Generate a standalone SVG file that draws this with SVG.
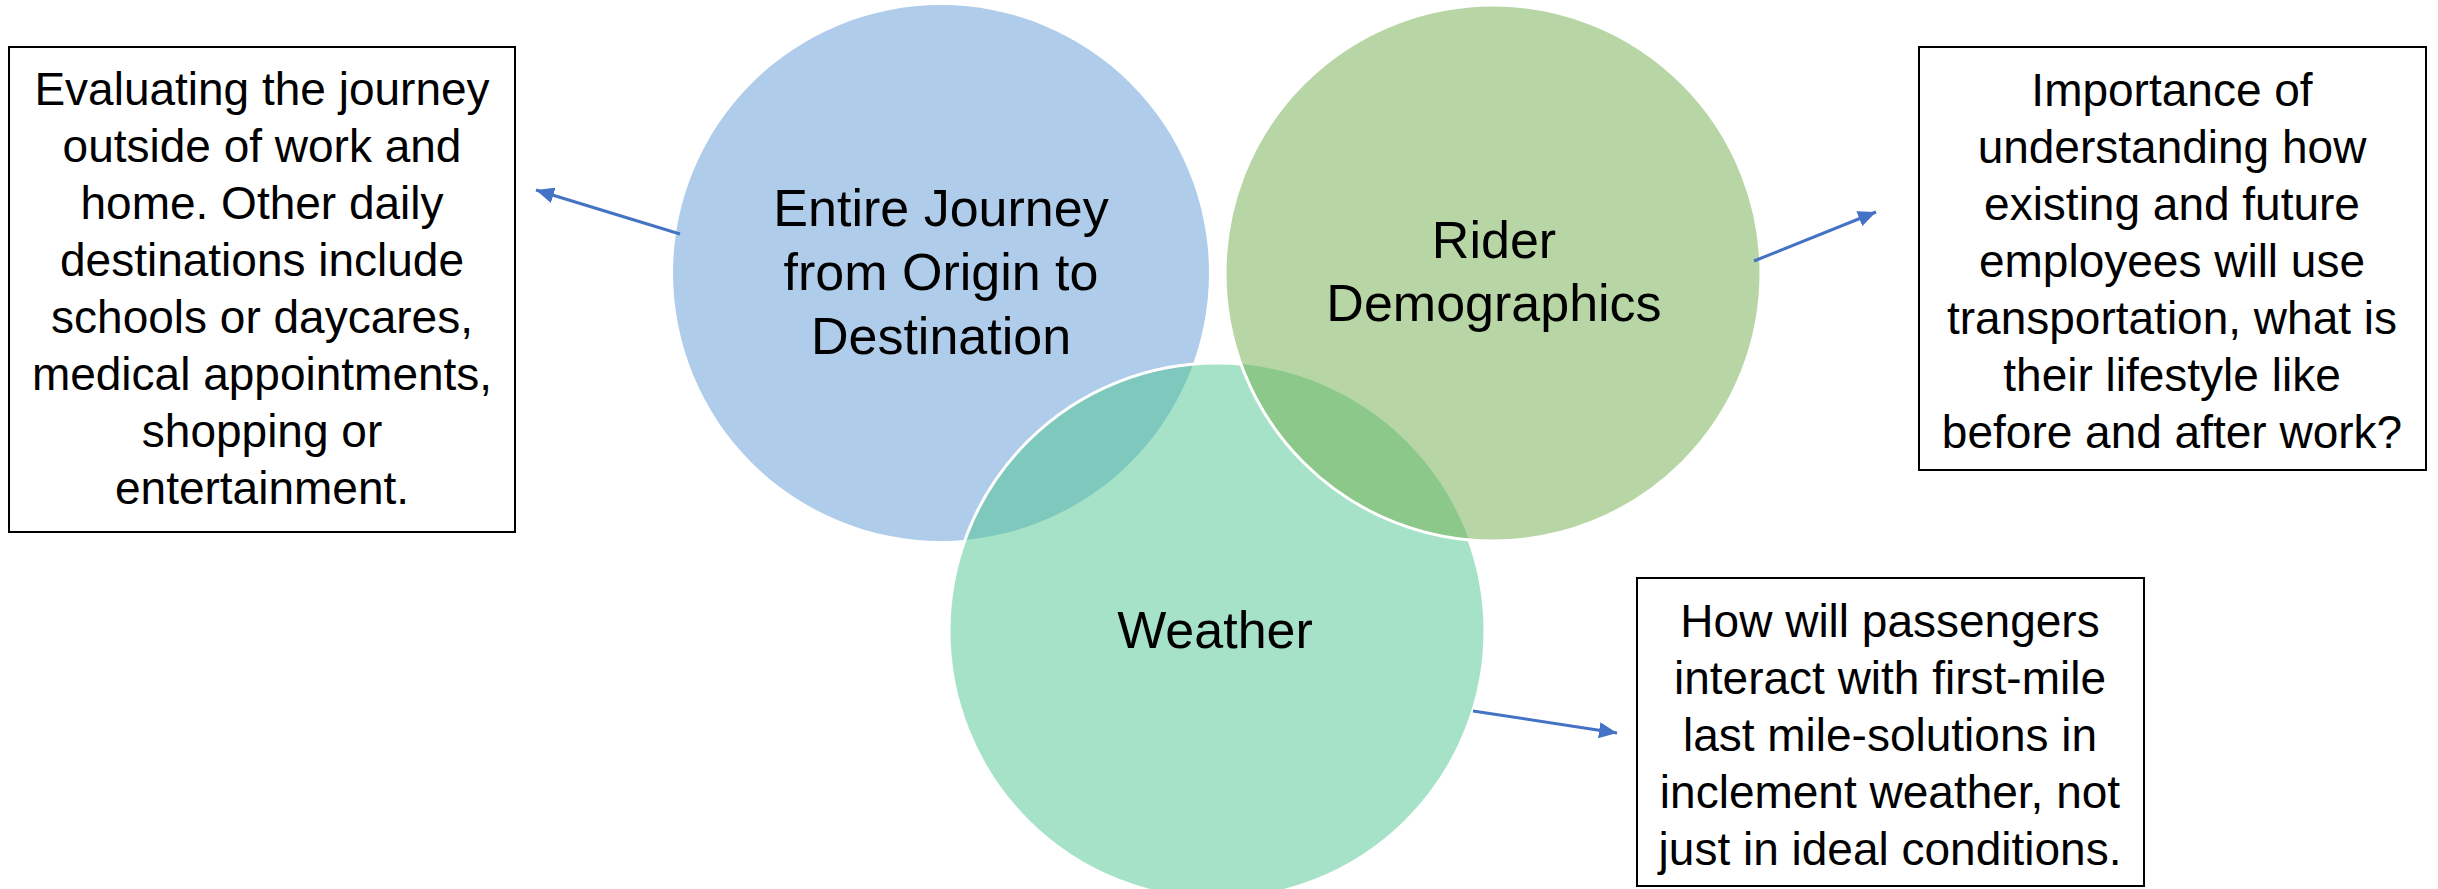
<svg xmlns="http://www.w3.org/2000/svg" width="2438" height="889" viewBox="0 0 2438 889">
<style>
.box{fill:#ffffff;stroke:#000000;stroke-width:2}
.bt{font-family:"Liberation Sans",Arial,sans-serif;font-size:46px;fill:#000000;text-anchor:middle}
.ct{font-family:"Liberation Sans",Arial,sans-serif;font-size:52px;fill:#000000;text-anchor:middle}
.conn{fill:none;stroke:#4472C4;stroke-width:3}
</style>
<defs>
<marker id="ah" markerUnits="userSpaceOnUse" markerWidth="20" markerHeight="16" refX="18" refY="8" orient="auto">
<path d="M0,0 L18,8 L0,16 Z" fill="#4472C4"/>
</marker>
<clipPath id="clipBlue"><circle cx="941" cy="273" r="268"/></clipPath>
<clipPath id="clipGreen"><circle cx="1493" cy="273" r="268"/></clipPath>
<mask id="maskGreen"><rect x="0" y="0" width="2438" height="889" fill="#ffffff"/><circle cx="1493" cy="273" r="268" fill="#000000"/></mask>
</defs>
<rect width="2438" height="889" fill="#ffffff"/>

<g id="circle-journey">
<circle cx="941" cy="273" r="268" fill="#AFCDEA"/>
</g>
<g id="circle-rider">
<circle cx="1493" cy="273" r="268" fill="#B8D6A5"/>
</g>
<g id="circle-weather">
<circle cx="1217" cy="631" r="268" fill="#A6E2C7"/>
<circle cx="1217" cy="631" r="268" fill="#7FC8BD" clip-path="url(#clipBlue)"/>
<circle cx="1217" cy="631" r="268" fill="#8CC88A" clip-path="url(#clipGreen)"/>
<circle cx="1217" cy="631" r="268" fill="none" stroke="#ffffff" stroke-width="3" mask="url(#maskGreen)"/>
</g>
<g id="circle-rider-outline">
<circle cx="1493" cy="273" r="268" fill="none" stroke="#ffffff" stroke-width="3"/>
</g>
<g id="labels">
<text class="ct" x="941" y="226">Entire Journey</text>
<text class="ct" x="941" y="290">from Origin to</text>
<text class="ct" x="941" y="354">Destination</text>
<text class="ct" x="1494" y="258">Rider</text>
<text class="ct" x="1494" y="321">Demographics</text>
<text class="ct" x="1215" y="648">Weather</text>
</g>

<g id="box-journey">
<rect class="box" x="9" y="47" width="506" height="485"/>
<text class="bt" x="262" y="105">Evaluating the journey</text>
<text class="bt" x="262" y="162">outside of work and</text>
<text class="bt" x="262" y="219">home. Other daily</text>
<text class="bt" x="262" y="276">destinations include</text>
<text class="bt" x="262" y="333">schools or daycares,</text>
<text class="bt" x="262" y="390">medical appointments,</text>
<text class="bt" x="262" y="447">shopping or</text>
<text class="bt" x="262" y="504">entertainment.</text>
</g>

<g id="box-rider">
<rect class="box" x="1919" y="47" width="507" height="423"/>
<text class="bt" x="2172" y="106">Importance of</text>
<text class="bt" x="2172" y="163">understanding how</text>
<text class="bt" x="2172" y="220">existing and future</text>
<text class="bt" x="2172" y="277">employees will use</text>
<text class="bt" x="2172" y="334">transportation, what is</text>
<text class="bt" x="2172" y="391">their lifestyle like</text>
<text class="bt" x="2172" y="448">before and after work?</text>
</g>

<g id="box-weather">
<rect class="box" x="1637" y="578" width="507" height="308"/>
<text class="bt" x="1890" y="637">How will passengers</text>
<text class="bt" x="1890" y="694">interact with first-mile</text>
<text class="bt" x="1890" y="751">last mile-solutions in</text>
<text class="bt" x="1890" y="808">inclement weather, not</text>
<text class="bt" x="1890" y="865">just in ideal conditions.</text>
</g>

<g id="connectors">
<line class="conn" x1="680" y1="234" x2="536" y2="190" marker-end="url(#ah)"/>
<line class="conn" x1="1754" y1="261" x2="1876" y2="212" marker-end="url(#ah)"/>
<line class="conn" x1="1473" y1="711" x2="1617" y2="733" marker-end="url(#ah)"/>
</g>
</svg>
